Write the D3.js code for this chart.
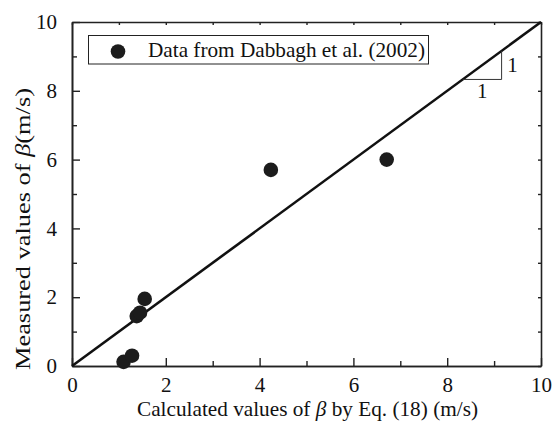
<!DOCTYPE html>
<html>
<head>
<meta charset="utf-8">
<script src="https://cdn.jsdelivr.net/npm/d3@7"></script>
<style>
  html, body { margin: 0; padding: 0; background: #fff; }
  svg { display: block; }
</style>
</head>
<body>
<svg id="chart" width="553" height="423"></svg>
<script>
// Measured vs calculated beta (m/s)
const calcBeta = [1.10, 1.28, 1.38, 1.45, 1.55, 4.24, 6.71];
const measBeta = [0.12, 0.30, 1.45, 1.55, 1.95, 5.70, 6.00];
const seriesName = "Data from Dabbagh et al. (2002)";
const majorTicks = [0, 2, 4, 6, 8, 10];
const minorTicks = [1, 3, 5, 7, 9];
const allTicks = [0, 1, 2, 3, 4, 5, 6, 7, 8, 9, 10];
const parityLine = [[0, 0], [10, 10]];
const slopeMark = [[8.33, 8.33], [9.16, 8.33], [9.16, 9.16]];

const FONT = "Liberation Serif";

const svg = d3.select("#chart");
const plotLeft = 72, plotRight = 541, plotTop = 22, plotBottom = 366;

const x = d3.scaleLinear().domain([0, 10]).range([plotLeft, plotRight]);
const y = d3.scaleLinear().domain([0, 10]).range([plotBottom, plotTop]);

const axisColor = "#222";

// frame: bottom/left axes with labels, top/right with small inward ticks
const gx = svg.append("g").attr("transform", `translate(0,${plotBottom})`)
  .call(d3.axisBottom(x).tickValues(majorTicks).tickSizeInner(-8).tickSizeOuter(0).tickPadding(14));
const gxm = svg.append("g").attr("transform", `translate(0,${plotBottom})`)
  .call(d3.axisBottom(x).tickValues(minorTicks).tickSizeInner(-5).tickSizeOuter(0).tickFormat(""));
const gy = svg.append("g").attr("transform", `translate(${plotLeft},0)`)
  .call(d3.axisLeft(y).tickValues(majorTicks).tickSizeInner(-8).tickSizeOuter(0).tickPadding(15));
const gym = svg.append("g").attr("transform", `translate(${plotLeft},0)`)
  .call(d3.axisLeft(y).tickValues(minorTicks).tickSizeInner(-5).tickSizeOuter(0).tickFormat(""));
const gt = svg.append("g").attr("transform", `translate(0,${plotTop})`)
  .call(d3.axisTop(x).tickValues(allTicks).tickSizeInner(-3).tickSizeOuter(0).tickFormat(""));
const gr = svg.append("g").attr("transform", `translate(${plotRight},0)`)
  .call(d3.axisRight(y).tickValues(allTicks).tickSizeInner(-3).tickSizeOuter(0).tickFormat(""));

[gx, gxm, gy, gym, gt, gr].forEach(g => {
  g.attr("font-family", FONT).attr("font-size", 21);
  g.select(".domain").attr("stroke", axisColor).attr("stroke-width", 1.6);
  g.selectAll(".tick line").attr("stroke", axisColor).attr("stroke-width", 1.4);
  g.selectAll(".tick text").attr("fill", "#111").attr("font-family", FONT).attr("font-size", 21);
});
gx.selectAll(".tick text").attr("dy", "0.55em");

// y = x reference line
svg.append("path")
  .datum(parityLine)
  .attr("fill", "none")
  .attr("stroke", "#111")
  .attr("stroke-width", 2.6)
  .attr("d", d3.line().x(d => x(d[0])).y(d => y(d[1])));

// slope-of-one marker
svg.append("path")
  .datum(slopeMark)
  .attr("fill", "none")
  .attr("stroke", "#333")
  .attr("stroke-width", 1)
  .attr("d", d3.line().x(d => x(d[0])).y(d => y(d[1])));
svg.append("text")
  .attr("x", x(slopeMark[1][0]) + 11)
  .attr("y", (y(slopeMark[1][1]) + y(slopeMark[2][1])) / 2 + 7)
  .attr("text-anchor", "middle")
  .attr("font-family", FONT).attr("font-size", 21).attr("fill", "#111")
  .text("1");
svg.append("text")
  .attr("x", (x(slopeMark[0][0]) + x(slopeMark[1][0])) / 2)
  .attr("y", y(slopeMark[0][1]) + 19)
  .attr("text-anchor", "middle")
  .attr("font-family", FONT).attr("font-size", 21).attr("fill", "#111")
  .text("1");

// data points
svg.append("g")
  .selectAll("circle")
  .data(calcBeta.map((v, i) => [v, measBeta[i]]))
  .join("circle")
  .attr("cx", d => x(d[0]))
  .attr("cy", d => y(d[1]))
  .attr("r", 7.3)
  .attr("fill", "#1c1c1c");

// legend
const lg = svg.append("g");
lg.append("rect")
  .attr("x", 88.5).attr("y", 35.5)
  .attr("width", 340).attr("height", 28.5)
  .attr("fill", "#fff")
  .attr("stroke", "#222")
  .attr("stroke-width", 1);
lg.append("circle").attr("cx", 118).attr("cy", 51.5).attr("r", 7.3).attr("fill", "#1c1c1c");
lg.append("text")
  .attr("x", 148).attr("y", 57)
  .attr("font-family", FONT).attr("font-size", 21).attr("fill", "#111")
  .attr("textLength", 277)
  .attr("lengthAdjust", "spacingAndGlyphs")
  .text(seriesName);

// axis titles
const xt = svg.append("text")
  .attr("x", 137).attr("y", 416)
  .attr("textLength", 341)
  .attr("lengthAdjust", "spacingAndGlyphs")
  .attr("font-family", FONT).attr("font-size", 21).attr("fill", "#111");
xt.append("tspan").text("Calculated values of ");
xt.append("tspan").attr("font-style", "italic").text("β");
xt.append("tspan").text(" by Eq. (18) (m/s)");

const yt = svg.append("text")
  .attr("transform", "translate(30,370) rotate(-90)")
  .attr("textLength", 282)
  .attr("lengthAdjust", "spacingAndGlyphs")
  .attr("font-family", FONT).attr("font-size", 21).attr("fill", "#111");
yt.append("tspan").text("Measured values of ");
yt.append("tspan").attr("font-style", "italic").text("β");
yt.append("tspan").text("(m/s)");
</script>
</body>
</html>
